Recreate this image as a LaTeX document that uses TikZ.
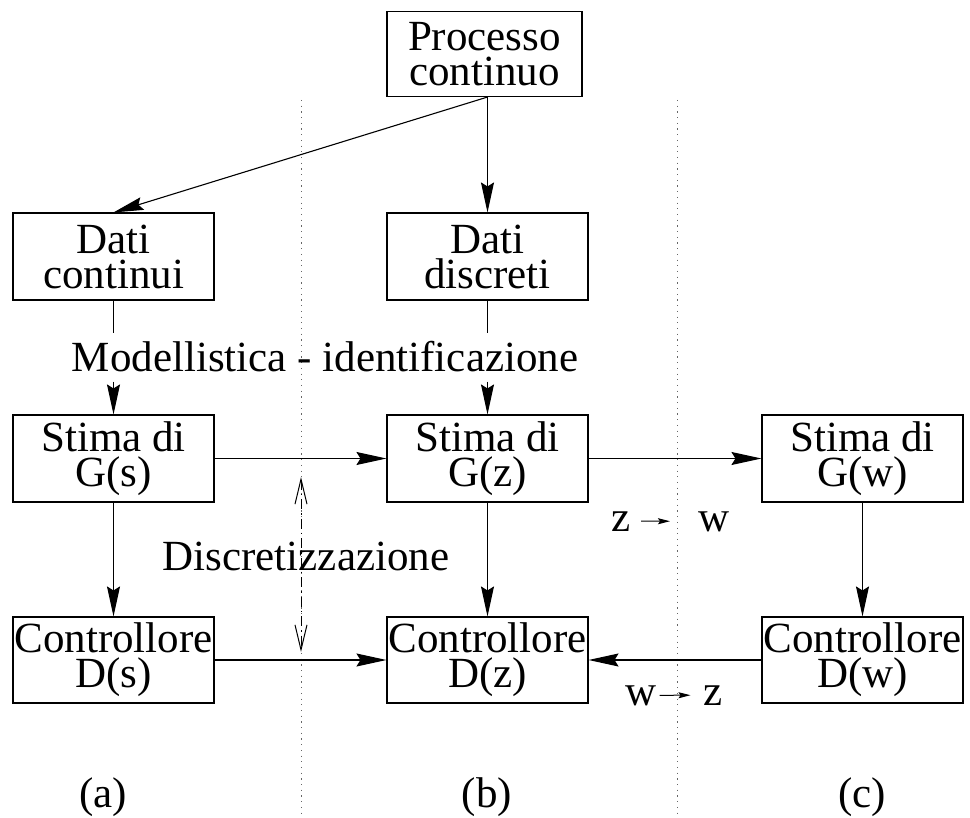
\documentclass[tikz,border=0pt]{standalone}
\usepackage{fontspec}
\setmainfont{Liberation Serif}
\usetikzlibrary{arrows.meta}
\begin{document}
\begin{tikzpicture}[x=1pt,y=-1pt,
  box/.style={draw, line width=1.1pt, minimum width=201pt, minimum height=87pt, inner sep=0pt, align=center, font=\fontsize{43}{35}\selectfont},
  lbl/.style={inner sep=0pt, font=\fontsize{43}{35}\selectfont},
  arr/.style={line width=1.1pt, -{Stealth[length=30pt,width=13pt,inset=4pt]}},
  ln/.style={line width=1.1pt},
  sarr/.style={line width=1pt, -{Stealth[length=12pt,width=6pt,inset=2pt]}},
  sep/.style={line width=1pt, black!60, dash pattern=on 1.2pt off 4.5pt},
  dsh/.style={line width=1pt, dash pattern=on 10pt off 4pt on 1.5pt off 4pt, {Straight Barb[length=25pt,width=12pt]}-{Straight Barb[length=25pt,width=12pt]}}
]
\useasboundingbox (0,0) rectangle (970,818);

% separators
\coordinate (s1t) at (301,100);
\coordinate (s1b) at (301,818);
\coordinate (s2t) at (677,100);
\coordinate (s2b) at (677,818);
\draw[sep] (s1t) -- (s1b);
\draw[sep] (s2t) -- (s2b);

% boxes
\node[box, minimum width=195pt, minimum height=85pt] (proc) at (484.5,54) {Processo\\continuo};
\node[box] (dc) at (113.5,256.5) {Dati\\continui};
\node[box] (dd) at (487.5,256.5) {Dati\\discreti};
\node[box] (gs) at (113.5,458.5) {Stima di\\G(s)};
\node[box] (gz) at (487.5,458.5) {Stima di\\G(z)};
\node[box] (gw) at (862.5,458.5) {Stima di\\G(w)};
\node[box, minimum height=86pt] (ds) at (113.5,660) {Controllore\\D(s)};
\node[box, minimum height=86pt] (dz) at (487.5,660) {Controllore\\D(z)};
\node[box, minimum height=86pt] (dw) at (862.5,660) {Controllore\\D(w)};

% top arrows
\coordinate (ptop) at (dd.north |- proc.south);
\draw[arr] (ptop) -- (dd.north);
\draw[arr] (ptop) -- (dc.north);

% modelling label
\node[lbl, anchor=base, inner ysep=9pt] (mod) at (325,372) {Modellistica - identificazione};
\draw[ln] (dc.south) -- (dc.south |- mod.north);
\draw[arr] (gs.north |- mod.south) -- (gs.north);
\draw[ln] (dd.south) -- (dd.south |- mod.north);
\draw[arr] (gz.north |- mod.south) -- (gz.north);

% horizontal arrows
\draw[arr] (gs.east) -- (gz.west);
\draw[arr] (gz.east) -- (gw.west);
\draw[arr] (ds.east) -- (dz.west);
\draw[arr] (dw.west) -- (dz.east);

% vertical arrows
\draw[arr] (gs.south) -- (ds.north);
\draw[arr] (gz.south) -- (dz.north);
\draw[arr] (gw.south) -- (dw.north);

% discretization
\node[lbl, anchor=base] (disc) at (306,570) {Discretizzazione};
\coordinate (da) at (301,477);
\coordinate (db) at (301,652);
\draw[dsh] (da) -- (db);

% z -> w
\node[lbl, anchor=base] (z1) at (621,531) {z};
\node[lbl, anchor=base] (w1) at (714,531) {w};
\draw[sarr, shorten <=20pt, shorten >=44pt] (z1.center) -- (w1.center);

% w -> z
\node[lbl, anchor=base] (w2) at (641.5,705) {w};
\node[lbl, anchor=base] (z2) at (713.5,705) {z};
\draw[sarr, shorten <=18pt, shorten >=23pt] (w2.center) -- (z2.center);

% column labels
\node[lbl, anchor=base] (la) at (103,807) {(a)};
\node[lbl, anchor=base] (lb) at (487,807) {(b)};
\node[lbl, anchor=base] (lc) at (862,807) {(c)};
\end{tikzpicture}
\end{document}
